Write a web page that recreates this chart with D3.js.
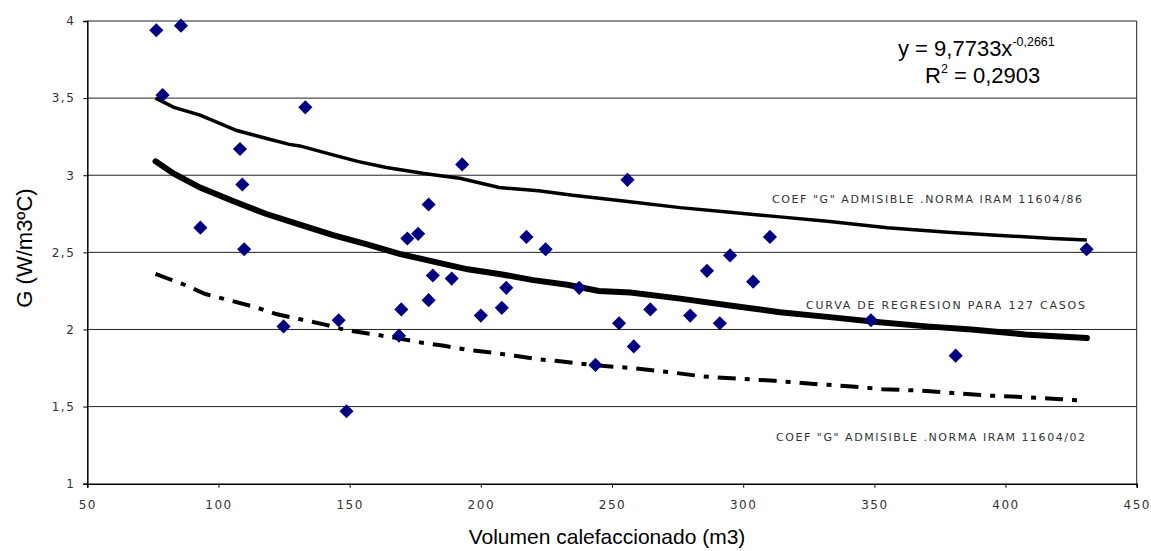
<!DOCTYPE html>
<html>
<head>
<meta charset="utf-8">
<script src="https://cdn.jsdelivr.net/npm/d3@7"></script>
<style>
  body { margin: 0; background: #fff; }
  .tick text { font-family: "DejaVu Sans", sans-serif; font-size: 12px; fill: #333; letter-spacing: 1.5px; }
  .note { font-family: "DejaVu Sans", sans-serif; font-size: 11px; fill: #333; }
  .lbl { font-family: "Liberation Sans", Arial, sans-serif; fill: #000; }
</style>
</head>
<body>
<div class="chart"></div>
<script>
// measured cases
var volumen = [76.3, 85.7, 78.7, 133.1, 108.2, 109.1, 93.1, 109.8, 124.8, 145.8,
    148.8, 168.8, 169.7, 172.0, 176.1, 180.1, 180.1, 181.7, 188.9, 192.9,
    200.0, 208.0, 209.7, 217.4, 224.7, 237.5, 243.7, 252.7, 255.9, 258.3,
    264.6, 279.8, 286.2, 291.1, 295.0, 303.8, 310.2, 348.7, 381.0, 430.9];
var coefG = [3.94, 3.97, 3.52, 3.44, 3.17, 2.94, 2.66, 2.52, 2.02, 2.06,
    1.47, 1.96, 2.13, 2.59, 2.62, 2.81, 2.19, 2.35, 2.33, 3.07,
    2.09, 2.14, 2.27, 2.60, 2.52, 2.27, 1.77, 2.04, 2.97, 1.89,
    2.13, 2.09, 2.38, 2.04, 2.48, 2.31, 2.60, 2.06, 1.83, 2.52];

// norma IRAM 11604/86
var iram86V = [76, 83, 93, 107, 118, 127, 131, 144, 153, 164, 179, 192, 207, 222, 235,
    256, 276, 295, 314, 333, 355, 378, 398, 418, 431];
var iram86G = [3.50, 3.44, 3.39, 3.29, 3.24, 3.20, 3.19, 3.13, 3.09, 3.05, 3.01, 2.98, 2.92, 2.90, 2.87,
    2.83, 2.79, 2.76, 2.73, 2.70, 2.66, 2.63, 2.61, 2.59, 2.58];

// curva de regresion
var regV = [76, 83, 93, 106, 118, 131, 144, 157, 169, 182, 195, 207, 220, 233, 245,
    257, 276, 295, 314, 333, 352, 370, 387, 409, 431];
var regG = [3.09, 3.01, 2.92, 2.83, 2.75, 2.68, 2.61, 2.55, 2.49, 2.44, 2.39, 2.36, 2.32, 2.29, 2.25,
    2.24, 2.20, 2.156, 2.112, 2.08, 2.047, 2.02, 2.00, 1.965, 1.944];

// norma IRAM 11604/02
var iram02V = [76, 87, 95, 104, 114, 122, 132, 141, 149, 158, 168, 177, 186, 195, 204, 213, 222, 231,
    245, 258, 272, 285, 299, 312, 327, 340, 353, 367, 378, 394, 408, 421, 430];
var iram02G = [2.36, 2.29, 2.23, 2.19, 2.145, 2.10, 2.063, 2.03, 1.994, 1.972, 1.944, 1.916, 1.894, 1.868, 1.851, 1.829, 1.807, 1.792,
    1.766, 1.749, 1.723, 1.695, 1.680, 1.667, 1.647, 1.632, 1.613, 1.604, 1.591, 1.571, 1.561, 1.548, 1.537];

var xTicks = [50, 100, 150, 200, 250, 300, 350, 400, 450];
var yTicks = [1, 1.5, 2, 2.5, 3, 3.5, 4];

var svgWidth = 1151;
var svgHeight = 551;
var margin = { top: 21, right: 14.3, bottom: 67.3, left: 87.3 };
var width = svgWidth - margin.left - margin.right;
var height = svgHeight - margin.top - margin.bottom;

var svg = d3.select(".chart")
    .append("svg")
    .attr("width", svgWidth)
    .attr("height", svgHeight);

var chartGroup = svg.append("g")
    .attr("transform", `translate(${margin.left}, ${margin.top})`);

var xLinearScale = d3.scaleLinear().domain([50, 450]).range([0, width]);
var yLinearScale = d3.scaleLinear().domain([1, 4]).range([height, 0]);

var comma = d => String(d).replace(".", ",");

// gridlines
chartGroup.selectAll(".grid")
    .data(yTicks.slice(1))
    .enter()
    .append("line")
    .attr("x1", 0)
    .attr("x2", width)
    .attr("y1", d => yLinearScale(d))
    .attr("y2", d => yLinearScale(d))
    .attr("stroke", "#222")
    .attr("stroke-width", 1);

// right border
chartGroup.append("line")
    .attr("x1", width).attr("x2", width)
    .attr("y1", 0).attr("y2", height)
    .attr("stroke", "#222");

var xAxis = chartGroup.append("g")
    .attr("transform", `translate(0, ${height})`)
    .call(d3.axisBottom(xLinearScale).tickValues(xTicks).tickSize(4).tickPadding(13).tickFormat(d => d));

var yAxis = chartGroup.append("g")
    .call(d3.axisLeft(yLinearScale).tickValues(yTicks).tickSize(4).tickPadding(8).tickFormat(comma));

chartGroup.selectAll(".domain").attr("stroke", "#000").attr("stroke-width", 1.5);
chartGroup.selectAll(".tick line").attr("stroke", "#000");

// curves
function curveLine(vs, gs) {
    return d3.line()
        .x((d, i) => xLinearScale(vs[i]))
        .y((d, i) => yLinearScale(gs[i]))(vs);
}

chartGroup.append("path")
    .attr("d", curveLine(iram86V, iram86G))
    .attr("fill", "none")
    .attr("stroke", "#000")
    .attr("stroke-width", 3.5);

chartGroup.append("path")
    .attr("d", curveLine(regV, regG))
    .attr("fill", "none")
    .attr("stroke", "#000")
    .attr("stroke-width", 6)
    .attr("stroke-linecap", "round");

chartGroup.append("path")
    .attr("d", curveLine(iram02V, iram02G))
    .attr("fill", "none")
    .attr("stroke", "#000")
    .attr("stroke-width", 4)
    .attr("stroke-dasharray", "18,9,5,9");

// points
var diamond = d3.symbol().type(d3.symbolSquare).size(100);
chartGroup.selectAll(".pt")
    .data(volumen)
    .enter()
    .append("path")
    .attr("d", diamond)
    .attr("transform", (d, i) => `translate(${xLinearScale(d)}, ${yLinearScale(coefG[i])}) rotate(45)`)
    .attr("fill", "#000080");

// annotations
svg.append("text")
    .attr("class", "note")
    .attr("x", 772).attr("y", 203)
    .attr("textLength", 310).attr("lengthAdjust", "spacing")
    .text("COEF \"G\" ADMISIBLE .NORMA IRAM 11604/86");

svg.append("text")
    .attr("class", "note")
    .attr("x", 806).attr("y", 309)
    .attr("textLength", 279).attr("lengthAdjust", "spacing")
    .text("CURVA DE REGRESION PARA 127 CASOS");

svg.append("text")
    .attr("class", "note")
    .attr("x", 776).attr("y", 441)
    .attr("textLength", 309).attr("lengthAdjust", "spacing")
    .text("COEF \"G\" ADMISIBLE .NORMA IRAM 11604/02");

// equation
var eq = svg.append("text")
    .attr("class", "lbl")
    .attr("x", 898).attr("y", 56)
    .attr("font-size", 22);
eq.append("tspan").text("y = 9,7733x");
eq.append("tspan").attr("dy", -10).attr("font-size", 12.5).text("-0,2661");

var r2 = svg.append("text")
    .attr("class", "lbl")
    .attr("x", 925).attr("y", 83)
    .attr("font-size", 22);
r2.append("tspan").text("R");
r2.append("tspan").attr("dy", -10).attr("font-size", 12.5).text("2");
r2.append("tspan").attr("dy", 10).text(" = 0,2903");

// axis titles
svg.append("text")
    .attr("class", "lbl")
    .attr("x", 607)
    .attr("y", 544)
    .attr("text-anchor", "middle")
    .attr("font-size", 21)
    .text("Volumen calefaccionado (m3)");

svg.append("text")
    .attr("class", "lbl")
    .attr("transform", "translate(32, 248) rotate(-90)")
    .attr("text-anchor", "middle")
    .attr("font-size", 22)
    .text("G (W/m3ºC)");
</script>
</body>
</html>
